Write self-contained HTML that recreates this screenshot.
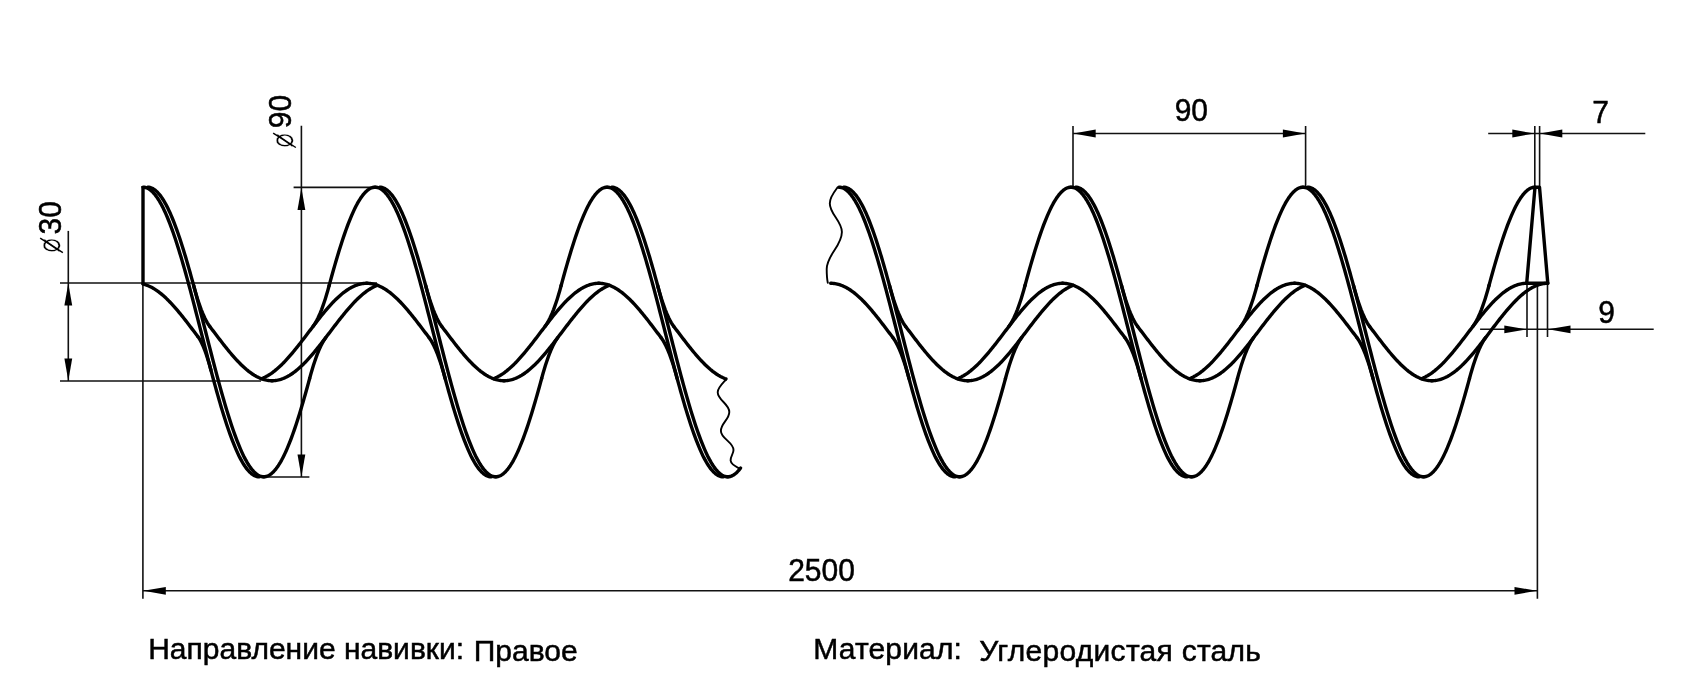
<!DOCTYPE html>
<html lang="ru"><head><meta charset="utf-8"><title>Спираль</title>
<style>
html,body{margin:0;padding:0;background:#fff;}
svg{display:block;filter:grayscale(1)}
.k{fill:none;stroke:#000;stroke-width:3.4;stroke-linejoin:round;stroke-linecap:round}
.n{fill:none;stroke:#111;stroke-width:1.6;stroke-linecap:butt}
.a{fill:#000;stroke:none}
.w{fill:none;stroke:#000;stroke-width:1.9;stroke-linecap:round}
text{font-family:"Liberation Sans",sans-serif;font-size:30px;fill:#000;stroke:#000;stroke-width:.5px}
text.dia{font-family:"DejaVu Sans","Liberation Sans",sans-serif;font-size:20px;stroke:#fff;stroke-width:.2px}
.s{fill:none;stroke:#000;stroke-width:1.4}
</style></head><body>
<svg width="1683" height="695" viewBox="0 0 1683 695">
<rect width="1683" height="695" fill="#fff"/>
<g>
<path class="w" d="M726.1,379.5C722,384 717.7,388 717.7,392.2C717.7,400 729.3,404 729.3,411.9C729.3,419.5 720.9,423.3 720.9,430.9C720.9,438.5 733.5,442.3 733.5,449.9C733.5,454 730.2,456.5 730.6,460.5C731,465 737,467 740.3,468.9"/>
<path class="w" d="M837.6,187.4C834.5,191.5 829.8,197 829.8,203.4C829.8,214 841.9,221 841.9,231.9C841.9,246 826.7,255 826.7,269C826.7,274 827,279 827.8,282.8"/>
<path class="n" d="M68.3,230.9L68.3,381.0"/>
<path class="n" d="M60.0,283.0L377.0,283.0"/>
<path class="n" d="M60.0,381.0L261.0,381.0"/>
<polygon class="a" points="68.3,283.3 64.4,305.6 72.2,305.6"/>
<polygon class="a" points="68.3,380.7 64.4,358.4 72.2,358.4"/>
<path class="n" d="M301.4,125.8L301.4,477.0"/>
<path class="n" d="M293.6,187.4L377.0,187.4"/>
<path class="n" d="M261.0,477.0L309.4,477.0"/>
<polygon class="a" points="301.4,187.7 297.5,210.0 305.3,210.0"/>
<polygon class="a" points="301.4,476.7 297.5,454.4 305.3,454.4"/>
<path class="n" d="M1073.0,126.0L1073.0,187.0"/>
<path class="n" d="M1305.6,126.0L1305.6,187.0"/>
<path class="n" d="M1073.0,133.5L1305.6,133.5"/>
<polygon class="a" points="1073.4,133.5 1095.7,129.6 1095.7,137.4"/>
<polygon class="a" points="1305.2,133.5 1282.9,129.6 1282.9,137.4"/>
<path class="n" d="M1534.8,126.0L1534.8,187.0"/>
<path class="n" d="M1539.6,126.0L1539.6,187.0"/>
<path class="n" d="M1488.2,133.5L1645.3,133.5"/>
<polygon class="a" points="1534.6,133.5 1512.3,129.6 1512.3,137.4"/>
<polygon class="a" points="1540.0,133.5 1562.3,129.6 1562.3,137.4"/>
<path class="n" d="M1527.0,283.0L1527.0,337.0"/>
<path class="n" d="M1547.5,283.0L1547.5,337.0"/>
<path class="n" d="M1480.1,329.3L1653.7,329.3"/>
<polygon class="a" points="1526.6,329.3 1504.3,325.4 1504.3,333.2"/>
<polygon class="a" points="1548.2,329.3 1570.5,325.4 1570.5,333.2"/>
<path class="n" d="M142.9,284.0L142.9,598.8"/>
<path class="n" d="M1537.4,286.0L1537.4,598.8"/>
<path class="n" d="M143.0,590.8L1537.0,590.8"/>
<polygon class="a" points="143.5,590.8 165.8,586.9 165.8,594.7"/>
<polygon class="a" points="1536.8,590.8 1514.5,586.9 1514.5,594.7"/>
</g>
<g>
<path class="k" d="M143.10,187.20L144.22,187.27 145.33,187.46 146.45,187.79 147.56,188.26 148.68,188.85 149.79,189.57 150.91,190.43 152.02,191.41 153.14,192.52 154.25,193.76 155.37,195.12 156.48,196.61 157.60,198.22 158.72,199.96 159.83,201.81 160.95,203.79 162.06,205.88 163.18,208.08 164.29,210.40 165.41,212.83 166.52,215.37 167.64,218.02 168.75,220.76 169.87,223.62 170.98,226.57 172.10,229.61 173.22,232.75 174.33,235.98 175.45,239.30 176.56,242.70 177.68,246.18 178.79,249.74 179.91,253.38 181.02,257.09 182.14,260.87 183.25,264.71 184.37,268.61 185.48,272.57 186.60,276.59 187.72,280.65 188.83,284.77 189.95,288.92 191.06,293.12 192.18,297.35 193.29,301.61 194.41,305.90 195.52,310.21 196.64,314.55 197.75,318.90 198.87,323.26 199.98,327.63 201.10,332.00 202.22,336.37 203.33,340.74 204.45,345.10 205.56,349.45 206.68,353.79 207.79,358.10 208.91,362.39 210.02,366.65 211.14,370.88 212.25,375.08 213.37,379.23 214.48,383.35 215.60,387.41 216.72,391.43 217.83,395.39 218.95,399.29 220.06,403.13 221.18,406.91 222.29,410.62 223.41,414.26 224.52,417.82 225.64,421.30 226.75,424.70 227.87,428.02 228.98,431.25 230.10,434.39 231.22,437.43 232.33,440.38 233.45,443.24 234.56,445.98 235.68,448.63 236.79,451.17 237.91,453.60 239.02,455.92 240.14,458.12 241.25,460.21 242.37,462.19 243.48,464.04 244.60,465.78 245.72,467.39 246.83,468.88 247.95,470.24 249.06,471.48 250.18,472.59 251.29,473.57 252.41,474.43 253.52,475.15 254.64,475.74 255.75,476.21 256.87,476.54 257.98,476.73 259.10,476.80"/>
<path class="k" d="M147.70,187.20L148.82,187.27 149.93,187.46 151.05,187.79 152.16,188.26 153.28,188.85 154.39,189.57 155.51,190.43 156.62,191.41 157.74,192.52 158.85,193.76 159.97,195.12 161.08,196.61 162.20,198.22 163.32,199.96 164.43,201.81 165.55,203.79 166.66,205.88 167.78,208.08 168.89,210.40 170.01,212.83 171.12,215.37 172.24,218.02 173.35,220.76 174.47,223.62 175.58,226.57 176.70,229.61 177.82,232.75 178.93,235.98 180.05,239.30 181.16,242.70 182.28,246.18 183.39,249.74 184.51,253.38 185.62,257.09 186.74,260.87 187.85,264.71 188.97,268.61 190.08,272.57 191.20,276.59 192.32,280.65 193.43,284.77 194.55,288.92 195.66,293.12 196.78,297.35 197.89,301.61 199.01,305.90 200.12,310.21 201.24,314.55 202.35,318.90 203.47,323.26 204.58,327.63 205.70,332.00 206.82,336.37 207.93,340.74 209.05,345.10 210.16,349.45 211.28,353.79 212.39,358.10 213.51,362.39 214.62,366.65 215.74,370.88 216.85,375.08 217.97,379.23 219.08,383.35 220.20,387.41 221.32,391.43 222.43,395.39 223.55,399.29 224.66,403.13 225.78,406.91 226.89,410.62 228.01,414.26 229.12,417.82 230.24,421.30 231.35,424.70 232.47,428.02 233.58,431.25 234.70,434.39 235.82,437.43 236.93,440.38 238.05,443.24 239.16,445.98 240.28,448.63 241.39,451.17 242.51,453.60 243.62,455.92 244.74,458.12 245.85,460.21 246.97,462.19 248.08,464.04 249.20,465.78 250.32,467.39 251.43,468.88 252.55,470.24 253.66,471.48 254.78,472.59 255.89,473.57 257.01,474.43 258.12,475.15 259.24,475.74 260.35,476.21 261.47,476.54 262.58,476.73 263.70,476.80"/>
<path class="k" d="M143.10,284.10L144.21,284.39 145.33,284.72 146.44,285.09 147.56,285.51 148.68,285.97 149.79,286.47 150.91,287.01 152.03,287.60 153.14,288.22 154.26,288.89 155.37,289.59 156.49,290.33 157.61,291.11 158.72,291.93 159.84,292.79 160.95,293.68 162.07,294.60 163.19,295.56 164.30,296.56 165.42,297.58 166.53,298.64 167.65,299.73 168.77,300.84 169.88,301.99 171.00,303.16 172.12,304.36 173.23,305.58 174.35,306.83 175.46,308.10 176.58,309.40 177.70,310.71 178.81,312.05 179.93,313.40 181.04,314.77 182.16,316.15 183.28,317.55 184.39,318.96 185.51,320.39 186.62,321.82 187.74,323.26 188.86,324.72 189.97,326.18 191.09,327.64 192.21,329.11 193.32,330.58 194.44,332.05 195.55,333.52 196.67,334.99 197.79,336.46"/>
<path class="k" d="M197.79,336.46L198.79,337.87 199.79,339.47 200.79,341.27 201.80,343.27 202.80,345.46 203.81,347.85 204.82,350.44 205.84,353.22 206.85,356.21 207.87,359.40 208.90,362.79 209.92,366.39 210.95,370.19"/>
<path class="k" d="M209.81,326.49L208.59,324.77 207.37,322.83 206.14,320.64 204.92,318.23 203.68,315.57 202.45,312.68 201.20,309.54 199.96,306.16 198.71,302.54 197.45,298.67 196.19,294.55 194.92,290.18 193.64,285.55"/>
<path class="k" d="M209.81,326.49L210.92,327.95 212.03,329.41 213.14,330.87 214.25,332.33 215.36,333.80 216.47,335.26 217.59,336.72 218.70,338.18 219.81,339.63 220.92,341.07 222.03,342.50 223.14,343.93 224.25,345.34 225.36,346.75 226.47,348.14 227.58,349.51 228.69,350.87 229.80,352.21 230.91,353.53 232.02,354.84 233.13,356.12 234.24,357.38 235.35,358.62 236.46,359.83 237.57,361.02 238.68,362.19 239.80,363.32 240.91,364.43 242.02,365.51 243.13,366.55 244.24,367.57 245.35,368.55 246.46,369.51 247.57,370.42 248.68,371.31 249.79,372.15 250.90,372.96 252.01,373.74 253.12,374.47 254.23,375.17 255.34,375.83 256.45,376.45 257.56,377.02 258.67,377.56 259.78,378.06 260.89,378.51 262.01,378.93 263.12,379.30 264.23,379.62 265.34,379.91 266.45,380.15 267.56,380.35 268.67,380.50 269.78,380.61 270.89,380.68 272.00,380.70"/>
<path class="k" d="M263.70,476.80L264.82,476.73 265.94,476.53 267.06,476.20 268.18,475.73 269.30,475.14 270.42,474.41 271.54,473.55 272.66,472.55 273.78,471.43 274.91,470.18 276.03,468.81 277.15,467.30 278.27,465.68 279.39,463.93 280.51,462.06 281.63,460.06 282.75,457.95 283.87,455.73 284.99,453.39 286.11,450.94 287.23,448.38 288.35,445.71 289.47,442.94 290.59,440.06 291.71,437.09 292.83,434.02 293.95,430.85 295.07,427.60 296.20,424.25 297.32,420.82 298.44,417.31 299.56,413.72 300.68,410.06 301.80,406.32 302.92,402.52 304.04,398.65 305.16,394.72 306.28,390.73 307.40,386.68 308.52,382.59 309.64,378.45"/>
<path class="k" d="M325.81,337.51L324.59,339.23 323.37,341.17 322.14,343.36 320.92,345.77 319.68,348.43 318.45,351.32 317.20,354.46 315.96,357.84 314.71,361.46 313.45,365.33 312.19,369.45 310.92,373.82 309.64,378.45"/>
<path class="k" d="M272.00,380.70L273.11,380.68 274.22,380.61 275.33,380.50 276.44,380.35 277.55,380.15 278.66,379.91 279.77,379.63 280.88,379.30 281.99,378.93 283.09,378.52 284.20,378.06 285.31,377.57 286.42,377.03 287.53,376.45 288.64,375.84 289.75,375.18 290.86,374.48 291.97,373.75 293.08,372.98 294.19,372.17 295.30,371.32 296.41,370.44 297.52,369.53 298.63,368.58 299.74,367.59 300.85,366.58 301.96,365.53 303.07,364.46 304.17,363.35 305.28,362.22 306.39,361.06 307.50,359.87 308.61,358.66 309.72,357.42 310.83,356.16 311.94,354.88 313.05,353.58 314.16,352.26 315.27,350.92 316.38,349.56 317.49,348.19 318.60,346.80 319.71,345.40 320.82,343.99 321.93,342.56 323.04,341.13 324.15,339.69 325.25,338.24 326.36,336.79 327.47,335.33 328.58,333.87 329.69,332.41 330.80,330.94 331.91,329.48 333.02,328.02 334.13,326.56 335.24,325.11 336.35,323.67 337.46,322.23 338.57,320.80 339.68,319.38 340.79,317.97 341.90,316.58 343.01,315.20 344.12,313.83 345.23,312.48 346.33,311.15 347.44,309.84 348.55,308.55 349.66,307.27 350.77,306.02 351.88,304.80 352.99,303.60 354.10,302.42 355.21,301.27 356.32,300.15 357.43,299.06 358.54,298.00 359.65,296.96 360.76,295.96 361.87,295.00 362.98,294.06 364.09,293.16 365.20,292.30 366.31,291.47 367.41,290.67 368.52,289.92 369.63,289.20 370.74,288.52 371.85,287.88 372.96,287.28 374.07,286.72 375.18,286.21 376.29,285.73 377.40,285.29"/>
<path class="k" d="M261.40,378.71L262.51,378.27 263.62,377.79 264.73,377.28 265.84,376.72 266.95,376.12 268.06,375.48 269.17,374.80 270.28,374.08 271.39,373.33 272.49,372.53 273.60,371.70 274.71,370.84 275.82,369.94 276.93,369.00 278.04,368.04 279.15,367.04 280.26,366.00 281.37,364.94 282.48,363.85 283.59,362.73 284.70,361.58 285.81,360.40 286.92,359.20 288.03,357.98 289.14,356.73 290.25,355.45 291.36,354.16 292.47,352.85 293.57,351.52 294.68,350.17 295.79,348.80 296.90,347.42 298.01,346.03 299.12,344.62 300.23,343.20 301.34,341.77 302.45,340.33 303.56,338.89 304.67,337.44 305.78,335.98 306.89,334.52 308.00,333.06 309.11,331.59 310.22,330.13 311.33,328.67 312.44,327.21 313.55,325.76 314.65,324.31 315.76,322.87 316.87,321.44 317.98,320.01 319.09,318.60 320.20,317.20 321.31,315.81 322.42,314.44 323.53,313.08 324.64,311.74 325.75,310.42 326.86,309.12 327.97,307.84 329.08,306.58 330.19,305.34 331.30,304.13 332.41,302.94 333.52,301.78 334.63,300.65 335.73,299.54 336.84,298.47 337.95,297.42 339.06,296.41 340.17,295.42 341.28,294.47 342.39,293.56 343.50,292.68 344.61,291.83 345.72,291.02 346.83,290.25 347.94,289.52 349.05,288.82 350.16,288.16 351.27,287.55 352.38,286.97 353.49,286.43 354.60,285.94 355.71,285.48 356.81,285.07 357.92,284.70 359.03,284.37 360.14,284.09 361.25,283.85 362.36,283.65 363.47,283.50 364.58,283.39 365.69,283.32 366.80,283.30"/>
<path class="k" d="M312.99,326.49L314.21,324.77 315.43,322.83 316.66,320.64 317.88,318.23 319.12,315.57 320.35,312.68 321.60,309.54 322.84,306.16 324.09,302.54 325.35,298.67 326.61,294.55 327.88,290.18 329.16,285.55"/>
<path class="k" d="M329.16,285.55L330.28,281.41 331.40,277.32 332.52,273.27 333.64,269.28 334.76,265.35 335.88,261.48 337.00,257.68 338.12,253.94 339.24,250.28 340.36,246.69 341.48,243.18 342.60,239.75 343.73,236.40 344.85,233.15 345.97,229.98 347.09,226.91 348.21,223.94 349.33,221.06 350.45,218.29 351.57,215.62 352.69,213.06 353.81,210.61 354.93,208.27 356.05,206.05 357.17,203.94 358.29,201.94 359.41,200.07 360.53,198.32 361.65,196.70 362.77,195.19 363.89,193.82 365.02,192.57 366.14,191.45 367.26,190.45 368.38,189.59 369.50,188.86 370.62,188.27 371.74,187.80 372.86,187.47 373.98,187.27 375.10,187.20"/>
<path class="k" d="M375.10,187.20L376.22,187.27 377.33,187.46 378.45,187.79 379.56,188.26 380.68,188.85 381.79,189.57 382.91,190.43 384.02,191.41 385.14,192.52 386.25,193.76 387.37,195.12 388.48,196.61 389.60,198.22 390.72,199.96 391.83,201.81 392.95,203.79 394.06,205.88 395.18,208.08 396.29,210.40 397.41,212.83 398.52,215.37 399.64,218.02 400.75,220.76 401.87,223.62 402.98,226.57 404.10,229.61 405.22,232.75 406.33,235.98 407.45,239.30 408.56,242.70 409.68,246.18 410.79,249.74 411.91,253.38 413.02,257.09 414.14,260.87 415.25,264.71 416.37,268.61 417.48,272.57 418.60,276.59 419.72,280.65 420.83,284.77 421.95,288.92 423.06,293.12 424.18,297.35 425.29,301.61 426.41,305.90 427.52,310.21 428.64,314.55 429.75,318.90 430.87,323.26 431.98,327.63 433.10,332.00 434.22,336.37 435.33,340.74 436.45,345.10 437.56,349.45 438.68,353.79 439.79,358.10 440.91,362.39 442.02,366.65 443.14,370.88 444.25,375.08 445.37,379.23 446.48,383.35 447.60,387.41 448.72,391.43 449.83,395.39 450.95,399.29 452.06,403.13 453.18,406.91 454.29,410.62 455.41,414.26 456.52,417.82 457.64,421.30 458.75,424.70 459.87,428.02 460.98,431.25 462.10,434.39 463.22,437.43 464.33,440.38 465.45,443.24 466.56,445.98 467.68,448.63 468.79,451.17 469.91,453.60 471.02,455.92 472.14,458.12 473.25,460.21 474.37,462.19 475.48,464.04 476.60,465.78 477.72,467.39 478.83,468.88 479.95,470.24 481.06,471.48 482.18,472.59 483.29,473.57 484.41,474.43 485.52,475.15 486.64,475.74 487.75,476.21 488.87,476.54 489.98,476.73 491.10,476.80"/>
<path class="k" d="M379.70,187.20L380.82,187.27 381.93,187.46 383.05,187.79 384.16,188.26 385.28,188.85 386.39,189.57 387.51,190.43 388.62,191.41 389.74,192.52 390.85,193.76 391.97,195.12 393.08,196.61 394.20,198.22 395.32,199.96 396.43,201.81 397.55,203.79 398.66,205.88 399.78,208.08 400.89,210.40 402.01,212.83 403.12,215.37 404.24,218.02 405.35,220.76 406.47,223.62 407.58,226.57 408.70,229.61 409.82,232.75 410.93,235.98 412.05,239.30 413.16,242.70 414.28,246.18 415.39,249.74 416.51,253.38 417.62,257.09 418.74,260.87 419.85,264.71 420.97,268.61 422.08,272.57 423.20,276.59 424.32,280.65 425.43,284.77 426.55,288.92 427.66,293.12 428.78,297.35 429.89,301.61 431.01,305.90 432.12,310.21 433.24,314.55 434.35,318.90 435.47,323.26 436.58,327.63 437.70,332.00 438.82,336.37 439.93,340.74 441.05,345.10 442.16,349.45 443.28,353.79 444.39,358.10 445.51,362.39 446.62,366.65 447.74,370.88 448.85,375.08 449.97,379.23 451.08,383.35 452.20,387.41 453.32,391.43 454.43,395.39 455.55,399.29 456.66,403.13 457.78,406.91 458.89,410.62 460.01,414.26 461.12,417.82 462.24,421.30 463.35,424.70 464.47,428.02 465.58,431.25 466.70,434.39 467.82,437.43 468.93,440.38 470.05,443.24 471.16,445.98 472.28,448.63 473.39,451.17 474.51,453.60 475.62,455.92 476.74,458.12 477.85,460.21 478.97,462.19 480.08,464.04 481.20,465.78 482.32,467.39 483.43,468.88 484.55,470.24 485.66,471.48 486.78,472.59 487.89,473.57 489.01,474.43 490.12,475.15 491.24,475.74 492.35,476.21 493.47,476.54 494.58,476.73 495.70,476.80"/>
<path class="k" d="M366.80,283.30L367.91,283.32 369.02,283.39 370.13,283.50 371.24,283.65 372.35,283.85 373.46,284.09 374.57,284.38 375.68,284.70 376.79,285.07 377.91,285.49 379.02,285.94 380.13,286.44 381.24,286.98 382.35,287.55 383.46,288.17 384.57,288.83 385.68,289.53 386.79,290.26 387.90,291.04 389.01,291.85 390.12,292.69 391.23,293.58 392.34,294.49 393.45,295.45 394.56,296.43 395.67,297.45 396.78,298.49 397.89,299.57 399.00,300.68 400.12,301.81 401.23,302.98 402.34,304.17 403.45,305.38 404.56,306.62 405.67,307.88 406.78,309.16 407.89,310.47 409.00,311.79 410.11,313.13 411.22,314.49 412.33,315.86 413.44,317.25 414.55,318.66 415.66,320.07 416.77,321.50 417.88,322.93 418.99,324.37 420.10,325.82 421.21,327.28 422.33,328.74 423.44,330.20 424.55,331.67 425.66,333.13 426.77,334.59 427.88,336.05 428.99,337.51"/>
<path class="k" d="M428.99,337.51L430.21,339.23 431.43,341.17 432.66,343.36 433.88,345.77 435.12,348.43 436.35,351.32 437.60,354.46 438.84,357.84 440.09,361.46 441.35,365.33 442.61,369.45 443.88,373.82 445.16,378.45"/>
<path class="k" d="M441.81,326.49L440.59,324.77 439.37,322.83 438.14,320.64 436.92,318.23 435.68,315.57 434.45,312.68 433.20,309.54 431.96,306.16 430.71,302.54 429.45,298.67 428.19,294.55 426.92,290.18 425.64,285.55"/>
<path class="k" d="M441.81,326.49L442.92,327.95 444.03,329.41 445.14,330.87 446.25,332.33 447.36,333.80 448.47,335.26 449.59,336.72 450.70,338.18 451.81,339.63 452.92,341.07 454.03,342.50 455.14,343.93 456.25,345.34 457.36,346.75 458.47,348.14 459.58,349.51 460.69,350.87 461.80,352.21 462.91,353.53 464.02,354.84 465.13,356.12 466.24,357.38 467.35,358.62 468.46,359.83 469.57,361.02 470.68,362.19 471.80,363.32 472.91,364.43 474.02,365.51 475.13,366.55 476.24,367.57 477.35,368.55 478.46,369.51 479.57,370.42 480.68,371.31 481.79,372.15 482.90,372.96 484.01,373.74 485.12,374.47 486.23,375.17 487.34,375.83 488.45,376.45 489.56,377.02 490.67,377.56 491.78,378.06 492.89,378.51 494.01,378.93 495.12,379.30 496.23,379.62 497.34,379.91 498.45,380.15 499.56,380.35 500.67,380.50 501.78,380.61 502.89,380.68 504.00,380.70"/>
<path class="k" d="M495.70,476.80L496.82,476.73 497.94,476.53 499.06,476.20 500.18,475.73 501.30,475.14 502.42,474.41 503.54,473.55 504.66,472.55 505.78,471.43 506.91,470.18 508.03,468.81 509.15,467.30 510.27,465.68 511.39,463.93 512.51,462.06 513.63,460.06 514.75,457.95 515.87,455.73 516.99,453.39 518.11,450.94 519.23,448.38 520.35,445.71 521.47,442.94 522.59,440.06 523.71,437.09 524.83,434.02 525.95,430.85 527.07,427.60 528.20,424.25 529.32,420.82 530.44,417.31 531.56,413.72 532.68,410.06 533.80,406.32 534.92,402.52 536.04,398.65 537.16,394.72 538.28,390.73 539.40,386.68 540.52,382.59 541.64,378.45"/>
<path class="k" d="M557.81,337.51L556.59,339.23 555.37,341.17 554.14,343.36 552.92,345.77 551.68,348.43 550.45,351.32 549.20,354.46 547.96,357.84 546.71,361.46 545.45,365.33 544.19,369.45 542.92,373.82 541.64,378.45"/>
<path class="k" d="M504.00,380.70L505.11,380.68 506.22,380.61 507.33,380.50 508.44,380.35 509.55,380.15 510.66,379.91 511.77,379.63 512.88,379.30 513.99,378.93 515.09,378.52 516.20,378.06 517.31,377.57 518.42,377.03 519.53,376.45 520.64,375.84 521.75,375.18 522.86,374.48 523.97,373.75 525.08,372.98 526.19,372.17 527.30,371.32 528.41,370.44 529.52,369.53 530.63,368.58 531.74,367.59 532.85,366.58 533.96,365.53 535.07,364.46 536.17,363.35 537.28,362.22 538.39,361.06 539.50,359.87 540.61,358.66 541.72,357.42 542.83,356.16 543.94,354.88 545.05,353.58 546.16,352.26 547.27,350.92 548.38,349.56 549.49,348.19 550.60,346.80 551.71,345.40 552.82,343.99 553.93,342.56 555.04,341.13 556.15,339.69 557.25,338.24 558.36,336.79 559.47,335.33 560.58,333.87 561.69,332.41 562.80,330.94 563.91,329.48 565.02,328.02 566.13,326.56 567.24,325.11 568.35,323.67 569.46,322.23 570.57,320.80 571.68,319.38 572.79,317.97 573.90,316.58 575.01,315.20 576.12,313.83 577.23,312.48 578.33,311.15 579.44,309.84 580.55,308.55 581.66,307.27 582.77,306.02 583.88,304.80 584.99,303.60 586.10,302.42 587.21,301.27 588.32,300.15 589.43,299.06 590.54,298.00 591.65,296.96 592.76,295.96 593.87,295.00 594.98,294.06 596.09,293.16 597.20,292.30 598.31,291.47 599.41,290.67 600.52,289.92 601.63,289.20 602.74,288.52 603.85,287.88 604.96,287.28 606.07,286.72 607.18,286.21 608.29,285.73 609.40,285.29"/>
<path class="k" d="M493.40,378.71L494.51,378.27 495.62,377.79 496.73,377.28 497.84,376.72 498.95,376.12 500.06,375.48 501.17,374.80 502.28,374.08 503.39,373.33 504.49,372.53 505.60,371.70 506.71,370.84 507.82,369.94 508.93,369.00 510.04,368.04 511.15,367.04 512.26,366.00 513.37,364.94 514.48,363.85 515.59,362.73 516.70,361.58 517.81,360.40 518.92,359.20 520.03,357.98 521.14,356.73 522.25,355.45 523.36,354.16 524.47,352.85 525.57,351.52 526.68,350.17 527.79,348.80 528.90,347.42 530.01,346.03 531.12,344.62 532.23,343.20 533.34,341.77 534.45,340.33 535.56,338.89 536.67,337.44 537.78,335.98 538.89,334.52 540.00,333.06 541.11,331.59 542.22,330.13 543.33,328.67 544.44,327.21 545.55,325.76 546.65,324.31 547.76,322.87 548.87,321.44 549.98,320.01 551.09,318.60 552.20,317.20 553.31,315.81 554.42,314.44 555.53,313.08 556.64,311.74 557.75,310.42 558.86,309.12 559.97,307.84 561.08,306.58 562.19,305.34 563.30,304.13 564.41,302.94 565.52,301.78 566.63,300.65 567.73,299.54 568.84,298.47 569.95,297.42 571.06,296.41 572.17,295.42 573.28,294.47 574.39,293.56 575.50,292.68 576.61,291.83 577.72,291.02 578.83,290.25 579.94,289.52 581.05,288.82 582.16,288.16 583.27,287.55 584.38,286.97 585.49,286.43 586.60,285.94 587.71,285.48 588.81,285.07 589.92,284.70 591.03,284.37 592.14,284.09 593.25,283.85 594.36,283.65 595.47,283.50 596.58,283.39 597.69,283.32 598.80,283.30"/>
<path class="k" d="M544.99,326.49L546.21,324.77 547.43,322.83 548.66,320.64 549.88,318.23 551.12,315.57 552.35,312.68 553.60,309.54 554.84,306.16 556.09,302.54 557.35,298.67 558.61,294.55 559.88,290.18 561.16,285.55"/>
<path class="k" d="M561.16,285.55L562.28,281.41 563.40,277.32 564.52,273.27 565.64,269.28 566.76,265.35 567.88,261.48 569.00,257.68 570.12,253.94 571.24,250.28 572.36,246.69 573.48,243.18 574.60,239.75 575.73,236.40 576.85,233.15 577.97,229.98 579.09,226.91 580.21,223.94 581.33,221.06 582.45,218.29 583.57,215.62 584.69,213.06 585.81,210.61 586.93,208.27 588.05,206.05 589.17,203.94 590.29,201.94 591.41,200.07 592.53,198.32 593.65,196.70 594.77,195.19 595.89,193.82 597.02,192.57 598.14,191.45 599.26,190.45 600.38,189.59 601.50,188.86 602.62,188.27 603.74,187.80 604.86,187.47 605.98,187.27 607.10,187.20"/>
<path class="k" d="M607.10,187.20L608.22,187.27 609.33,187.46 610.45,187.79 611.56,188.26 612.68,188.85 613.79,189.57 614.91,190.43 616.02,191.41 617.14,192.52 618.25,193.76 619.37,195.12 620.48,196.61 621.60,198.22 622.72,199.96 623.83,201.81 624.95,203.79 626.06,205.88 627.18,208.08 628.29,210.40 629.41,212.83 630.52,215.37 631.64,218.02 632.75,220.76 633.87,223.62 634.98,226.57 636.10,229.61 637.22,232.75 638.33,235.98 639.45,239.30 640.56,242.70 641.68,246.18 642.79,249.74 643.91,253.38 645.02,257.09 646.14,260.87 647.25,264.71 648.37,268.61 649.48,272.57 650.60,276.59 651.72,280.65 652.83,284.77 653.95,288.92 655.06,293.12 656.18,297.35 657.29,301.61 658.41,305.90 659.52,310.21 660.64,314.55 661.75,318.90 662.87,323.26 663.98,327.63 665.10,332.00 666.22,336.37 667.33,340.74 668.45,345.10 669.56,349.45 670.68,353.79 671.79,358.10 672.91,362.39 674.02,366.65 675.14,370.88 676.25,375.08 677.37,379.23 678.48,383.35 679.60,387.41 680.72,391.43 681.83,395.39 682.95,399.29 684.06,403.13 685.18,406.91 686.29,410.62 687.41,414.26 688.52,417.82 689.64,421.30 690.75,424.70 691.87,428.02 692.98,431.25 694.10,434.39 695.22,437.43 696.33,440.38 697.45,443.24 698.56,445.98 699.68,448.63 700.79,451.17 701.91,453.60 703.02,455.92 704.14,458.12 705.25,460.21 706.37,462.19 707.48,464.04 708.60,465.78 709.72,467.39 710.83,468.88 711.95,470.24 713.06,471.48 714.18,472.59 715.29,473.57 716.41,474.43 717.52,475.15 718.64,475.74 719.75,476.21 720.87,476.54 721.98,476.73 723.10,476.80"/>
<path class="k" d="M611.70,187.20L612.82,187.27 613.93,187.46 615.05,187.79 616.16,188.26 617.28,188.85 618.39,189.57 619.51,190.43 620.62,191.41 621.74,192.52 622.85,193.76 623.97,195.12 625.08,196.61 626.20,198.22 627.32,199.96 628.43,201.81 629.55,203.79 630.66,205.88 631.78,208.08 632.89,210.40 634.01,212.83 635.12,215.37 636.24,218.02 637.35,220.76 638.47,223.62 639.58,226.57 640.70,229.61 641.82,232.75 642.93,235.98 644.05,239.30 645.16,242.70 646.28,246.18 647.39,249.74 648.51,253.38 649.62,257.09 650.74,260.87 651.85,264.71 652.97,268.61 654.08,272.57 655.20,276.59 656.32,280.65 657.43,284.77 658.55,288.92 659.66,293.12 660.78,297.35 661.89,301.61 663.01,305.90 664.12,310.21 665.24,314.55 666.35,318.90 667.47,323.26 668.58,327.63 669.70,332.00 670.82,336.37 671.93,340.74 673.05,345.10 674.16,349.45 675.28,353.79 676.39,358.10 677.51,362.39 678.62,366.65 679.74,370.88 680.85,375.08 681.97,379.23 683.08,383.35 684.20,387.41 685.32,391.43 686.43,395.39 687.55,399.29 688.66,403.13 689.78,406.91 690.89,410.62 692.01,414.26 693.12,417.82 694.24,421.30 695.35,424.70 696.47,428.02 697.58,431.25 698.70,434.39 699.82,437.43 700.93,440.38 702.05,443.24 703.16,445.98 704.28,448.63 705.39,451.17 706.51,453.60 707.62,455.92 708.74,458.12 709.85,460.21 710.97,462.19 712.08,464.04 713.20,465.78 714.32,467.39 715.43,468.88 716.55,470.24 717.66,471.48 718.78,472.59 719.89,473.57 721.01,474.43 722.12,475.15 723.24,475.74 724.35,476.21 725.47,476.54 726.58,476.73 727.70,476.80"/>
<path class="k" d="M598.80,283.30L599.91,283.32 601.02,283.39 602.13,283.50 603.24,283.65 604.35,283.85 605.46,284.09 606.57,284.38 607.68,284.70 608.79,285.07 609.91,285.49 611.02,285.94 612.13,286.44 613.24,286.98 614.35,287.55 615.46,288.17 616.57,288.83 617.68,289.53 618.79,290.26 619.90,291.04 621.01,291.85 622.12,292.69 623.23,293.58 624.34,294.49 625.45,295.45 626.56,296.43 627.67,297.45 628.78,298.49 629.89,299.57 631.00,300.68 632.12,301.81 633.23,302.98 634.34,304.17 635.45,305.38 636.56,306.62 637.67,307.88 638.78,309.16 639.89,310.47 641.00,311.79 642.11,313.13 643.22,314.49 644.33,315.86 645.44,317.25 646.55,318.66 647.66,320.07 648.77,321.50 649.88,322.93 650.99,324.37 652.10,325.82 653.21,327.28 654.33,328.74 655.44,330.20 656.55,331.67 657.66,333.13 658.77,334.59 659.88,336.05 660.99,337.51"/>
<path class="k" d="M660.99,337.51L662.21,339.23 663.43,341.17 664.66,343.36 665.88,345.77 667.12,348.43 668.35,351.32 669.60,354.46 670.84,357.84 672.09,361.46 673.35,365.33 674.61,369.45 675.88,373.82 677.16,378.45"/>
<path class="k" d="M673.81,326.49L672.59,324.77 671.37,322.83 670.14,320.64 668.92,318.23 667.68,315.57 666.45,312.68 665.20,309.54 663.96,306.16 662.71,302.54 661.45,298.67 660.19,294.55 658.92,290.18 657.64,285.55"/>
<path class="k" d="M673.81,326.49L674.92,327.95 676.03,329.41 677.14,330.87 678.25,332.33 679.36,333.80 680.47,335.26 681.59,336.72 682.70,338.18 683.81,339.63 684.92,341.07 686.03,342.50 687.14,343.93 688.25,345.34 689.36,346.75 690.47,348.14 691.58,349.51 692.69,350.87 693.80,352.21 694.91,353.53 696.02,354.84 697.13,356.12 698.24,357.38 699.35,358.62 700.46,359.83 701.57,361.02 702.68,362.19 703.80,363.32 704.91,364.43 706.02,365.51 707.13,366.55 708.24,367.57 709.35,368.55 710.46,369.51 711.57,370.42 712.68,371.31 713.79,372.15 714.90,372.96 716.01,373.74 717.12,374.47 718.23,375.17 719.34,375.83 720.45,376.45 721.56,377.02 722.67,377.56 723.78,378.06 724.89,378.51 726.01,378.93"/>
<path class="k" d="M727.70,476.80L728.87,476.73 730.05,476.51 731.22,476.14 732.39,475.63 733.56,474.98 734.74,474.18 735.91,473.24 737.08,472.15 738.25,470.92 739.43,469.56 740.60,468.05"/>
<path class="k" d="M838.95,187.20L840.07,187.27 841.18,187.46 842.30,187.79 843.41,188.26 844.53,188.85 845.64,189.57 846.76,190.43 847.87,191.41 848.99,192.52 850.10,193.76 851.22,195.12 852.33,196.61 853.45,198.22 854.57,199.96 855.68,201.81 856.80,203.79 857.91,205.88 859.03,208.08 860.14,210.40 861.26,212.83 862.37,215.37 863.49,218.02 864.60,220.76 865.72,223.62 866.83,226.57 867.95,229.61 869.07,232.75 870.18,235.98 871.30,239.30 872.41,242.70 873.53,246.18 874.64,249.74 875.76,253.38 876.87,257.09 877.99,260.87 879.10,264.71 880.22,268.61 881.33,272.57 882.45,276.59 883.57,280.65 884.68,284.77 885.80,288.92 886.91,293.12 888.03,297.35 889.14,301.61 890.26,305.90 891.37,310.21 892.49,314.55 893.60,318.90 894.72,323.26 895.83,327.63 896.95,332.00 898.07,336.37 899.18,340.74 900.30,345.10 901.41,349.45 902.53,353.79 903.64,358.10 904.76,362.39 905.87,366.65 906.99,370.88 908.10,375.08 909.22,379.23 910.33,383.35 911.45,387.41 912.57,391.43 913.68,395.39 914.80,399.29 915.91,403.13 917.03,406.91 918.14,410.62 919.26,414.26 920.37,417.82 921.49,421.30 922.60,424.70 923.72,428.02 924.83,431.25 925.95,434.39 927.07,437.43 928.18,440.38 929.30,443.24 930.41,445.98 931.53,448.63 932.64,451.17 933.76,453.60 934.87,455.92 935.99,458.12 937.10,460.21 938.22,462.19 939.33,464.04 940.45,465.78 941.57,467.39 942.68,468.88 943.80,470.24 944.91,471.48 946.03,472.59 947.14,473.57 948.26,474.43 949.37,475.15 950.49,475.74 951.60,476.21 952.72,476.54 953.83,476.73 954.95,476.80"/>
<path class="k" d="M843.55,187.20L844.67,187.27 845.78,187.46 846.90,187.79 848.01,188.26 849.13,188.85 850.24,189.57 851.36,190.43 852.47,191.41 853.59,192.52 854.70,193.76 855.82,195.12 856.93,196.61 858.05,198.22 859.17,199.96 860.28,201.81 861.40,203.79 862.51,205.88 863.63,208.08 864.74,210.40 865.86,212.83 866.97,215.37 868.09,218.02 869.20,220.76 870.32,223.62 871.43,226.57 872.55,229.61 873.67,232.75 874.78,235.98 875.90,239.30 877.01,242.70 878.13,246.18 879.24,249.74 880.36,253.38 881.47,257.09 882.59,260.87 883.70,264.71 884.82,268.61 885.93,272.57 887.05,276.59 888.17,280.65 889.28,284.77 890.40,288.92 891.51,293.12 892.63,297.35 893.74,301.61 894.86,305.90 895.97,310.21 897.09,314.55 898.20,318.90 899.32,323.26 900.43,327.63 901.55,332.00 902.67,336.37 903.78,340.74 904.90,345.10 906.01,349.45 907.13,353.79 908.24,358.10 909.36,362.39 910.47,366.65 911.59,370.88 912.70,375.08 913.82,379.23 914.93,383.35 916.05,387.41 917.17,391.43 918.28,395.39 919.40,399.29 920.51,403.13 921.63,406.91 922.74,410.62 923.86,414.26 924.97,417.82 926.09,421.30 927.20,424.70 928.32,428.02 929.43,431.25 930.55,434.39 931.67,437.43 932.78,440.38 933.90,443.24 935.01,445.98 936.13,448.63 937.24,451.17 938.36,453.60 939.47,455.92 940.59,458.12 941.70,460.21 942.82,462.19 943.93,464.04 945.05,465.78 946.17,467.39 947.28,468.88 948.40,470.24 949.51,471.48 950.63,472.59 951.74,473.57 952.86,474.43 953.97,475.15 955.09,475.74 956.20,476.21 957.32,476.54 958.43,476.73 959.55,476.80"/>
<path class="k" d="M830.65,283.30L831.76,283.32 832.87,283.39 833.98,283.50 835.09,283.65 836.20,283.85 837.31,284.09 838.42,284.38 839.53,284.70 840.64,285.07 841.76,285.49 842.87,285.94 843.98,286.44 845.09,286.98 846.20,287.55 847.31,288.17 848.42,288.83 849.53,289.53 850.64,290.26 851.75,291.04 852.86,291.85 853.97,292.69 855.08,293.58 856.19,294.49 857.30,295.45 858.41,296.43 859.52,297.45 860.63,298.49 861.74,299.57 862.85,300.68 863.97,301.81 865.08,302.98 866.19,304.17 867.30,305.38 868.41,306.62 869.52,307.88 870.63,309.16 871.74,310.47 872.85,311.79 873.96,313.13 875.07,314.49 876.18,315.86 877.29,317.25 878.40,318.66 879.51,320.07 880.62,321.50 881.73,322.93 882.84,324.37 883.95,325.82 885.06,327.28 886.18,328.74 887.29,330.20 888.40,331.67 889.51,333.13 890.62,334.59 891.73,336.05 892.84,337.51"/>
<path class="k" d="M892.84,337.51L894.06,339.23 895.28,341.17 896.51,343.36 897.73,345.77 898.97,348.43 900.20,351.32 901.45,354.46 902.69,357.84 903.94,361.46 905.20,365.33 906.46,369.45 907.73,373.82 909.01,378.45"/>
<path class="k" d="M905.66,326.49L904.44,324.77 903.22,322.83 901.99,320.64 900.77,318.23 899.53,315.57 898.30,312.68 897.05,309.54 895.81,306.16 894.56,302.54 893.30,298.67 892.04,294.55 890.77,290.18 889.49,285.55"/>
<path class="k" d="M905.66,326.49L906.77,327.95 907.88,329.41 908.99,330.87 910.10,332.33 911.21,333.80 912.32,335.26 913.44,336.72 914.55,338.18 915.66,339.63 916.77,341.07 917.88,342.50 918.99,343.93 920.10,345.34 921.21,346.75 922.32,348.14 923.43,349.51 924.54,350.87 925.65,352.21 926.76,353.53 927.87,354.84 928.98,356.12 930.09,357.38 931.20,358.62 932.31,359.83 933.42,361.02 934.53,362.19 935.65,363.32 936.76,364.43 937.87,365.51 938.98,366.55 940.09,367.57 941.20,368.55 942.31,369.51 943.42,370.42 944.53,371.31 945.64,372.15 946.75,372.96 947.86,373.74 948.97,374.47 950.08,375.17 951.19,375.83 952.30,376.45 953.41,377.02 954.52,377.56 955.63,378.06 956.74,378.51 957.86,378.93 958.97,379.30 960.08,379.62 961.19,379.91 962.30,380.15 963.41,380.35 964.52,380.50 965.63,380.61 966.74,380.68 967.85,380.70"/>
<path class="k" d="M959.55,476.80L960.67,476.73 961.79,476.53 962.91,476.20 964.03,475.73 965.15,475.14 966.27,474.41 967.39,473.55 968.51,472.55 969.63,471.43 970.76,470.18 971.88,468.81 973.00,467.30 974.12,465.68 975.24,463.93 976.36,462.06 977.48,460.06 978.60,457.95 979.72,455.73 980.84,453.39 981.96,450.94 983.08,448.38 984.20,445.71 985.32,442.94 986.44,440.06 987.56,437.09 988.68,434.02 989.80,430.85 990.92,427.60 992.05,424.25 993.17,420.82 994.29,417.31 995.41,413.72 996.53,410.06 997.65,406.32 998.77,402.52 999.89,398.65 1001.01,394.72 1002.13,390.73 1003.25,386.68 1004.37,382.59 1005.49,378.45"/>
<path class="k" d="M1021.66,337.51L1020.44,339.23 1019.22,341.17 1017.99,343.36 1016.77,345.77 1015.53,348.43 1014.30,351.32 1013.05,354.46 1011.81,357.84 1010.56,361.46 1009.30,365.33 1008.04,369.45 1006.77,373.82 1005.49,378.45"/>
<path class="k" d="M967.85,380.70L968.96,380.68 970.07,380.61 971.18,380.50 972.29,380.35 973.40,380.15 974.51,379.91 975.62,379.63 976.73,379.30 977.84,378.93 978.94,378.52 980.05,378.06 981.16,377.57 982.27,377.03 983.38,376.45 984.49,375.84 985.60,375.18 986.71,374.48 987.82,373.75 988.93,372.98 990.04,372.17 991.15,371.32 992.26,370.44 993.37,369.53 994.48,368.58 995.59,367.59 996.70,366.58 997.81,365.53 998.92,364.46 1000.02,363.35 1001.13,362.22 1002.24,361.06 1003.35,359.87 1004.46,358.66 1005.57,357.42 1006.68,356.16 1007.79,354.88 1008.90,353.58 1010.01,352.26 1011.12,350.92 1012.23,349.56 1013.34,348.19 1014.45,346.80 1015.56,345.40 1016.67,343.99 1017.78,342.56 1018.89,341.13 1020.00,339.69 1021.10,338.24 1022.21,336.79 1023.32,335.33 1024.43,333.87 1025.54,332.41 1026.65,330.94 1027.76,329.48 1028.87,328.02 1029.98,326.56 1031.09,325.11 1032.20,323.67 1033.31,322.23 1034.42,320.80 1035.53,319.38 1036.64,317.97 1037.75,316.58 1038.86,315.20 1039.97,313.83 1041.08,312.48 1042.18,311.15 1043.29,309.84 1044.40,308.55 1045.51,307.27 1046.62,306.02 1047.73,304.80 1048.84,303.60 1049.95,302.42 1051.06,301.27 1052.17,300.15 1053.28,299.06 1054.39,298.00 1055.50,296.96 1056.61,295.96 1057.72,295.00 1058.83,294.06 1059.94,293.16 1061.05,292.30 1062.16,291.47 1063.26,290.67 1064.37,289.92 1065.48,289.20 1066.59,288.52 1067.70,287.88 1068.81,287.28 1069.92,286.72 1071.03,286.21 1072.14,285.73 1073.25,285.29"/>
<path class="k" d="M957.25,378.71L958.36,378.27 959.47,377.79 960.58,377.28 961.69,376.72 962.80,376.12 963.91,375.48 965.02,374.80 966.13,374.08 967.24,373.33 968.34,372.53 969.45,371.70 970.56,370.84 971.67,369.94 972.78,369.00 973.89,368.04 975.00,367.04 976.11,366.00 977.22,364.94 978.33,363.85 979.44,362.73 980.55,361.58 981.66,360.40 982.77,359.20 983.88,357.98 984.99,356.73 986.10,355.45 987.21,354.16 988.32,352.85 989.42,351.52 990.53,350.17 991.64,348.80 992.75,347.42 993.86,346.03 994.97,344.62 996.08,343.20 997.19,341.77 998.30,340.33 999.41,338.89 1000.52,337.44 1001.63,335.98 1002.74,334.52 1003.85,333.06 1004.96,331.59 1006.07,330.13 1007.18,328.67 1008.29,327.21 1009.40,325.76 1010.50,324.31 1011.61,322.87 1012.72,321.44 1013.83,320.01 1014.94,318.60 1016.05,317.20 1017.16,315.81 1018.27,314.44 1019.38,313.08 1020.49,311.74 1021.60,310.42 1022.71,309.12 1023.82,307.84 1024.93,306.58 1026.04,305.34 1027.15,304.13 1028.26,302.94 1029.37,301.78 1030.48,300.65 1031.58,299.54 1032.69,298.47 1033.80,297.42 1034.91,296.41 1036.02,295.42 1037.13,294.47 1038.24,293.56 1039.35,292.68 1040.46,291.83 1041.57,291.02 1042.68,290.25 1043.79,289.52 1044.90,288.82 1046.01,288.16 1047.12,287.55 1048.23,286.97 1049.34,286.43 1050.45,285.94 1051.56,285.48 1052.66,285.07 1053.77,284.70 1054.88,284.37 1055.99,284.09 1057.10,283.85 1058.21,283.65 1059.32,283.50 1060.43,283.39 1061.54,283.32 1062.65,283.30"/>
<path class="k" d="M1008.84,326.49L1010.06,324.77 1011.28,322.83 1012.51,320.64 1013.73,318.23 1014.97,315.57 1016.20,312.68 1017.45,309.54 1018.69,306.16 1019.94,302.54 1021.20,298.67 1022.46,294.55 1023.73,290.18 1025.01,285.55"/>
<path class="k" d="M1025.01,285.55L1026.13,281.41 1027.25,277.32 1028.37,273.27 1029.49,269.28 1030.61,265.35 1031.73,261.48 1032.85,257.68 1033.97,253.94 1035.09,250.28 1036.21,246.69 1037.33,243.18 1038.45,239.75 1039.58,236.40 1040.70,233.15 1041.82,229.98 1042.94,226.91 1044.06,223.94 1045.18,221.06 1046.30,218.29 1047.42,215.62 1048.54,213.06 1049.66,210.61 1050.78,208.27 1051.90,206.05 1053.02,203.94 1054.14,201.94 1055.26,200.07 1056.38,198.32 1057.50,196.70 1058.62,195.19 1059.74,193.82 1060.87,192.57 1061.99,191.45 1063.11,190.45 1064.23,189.59 1065.35,188.86 1066.47,188.27 1067.59,187.80 1068.71,187.47 1069.83,187.27 1070.95,187.20"/>
<path class="k" d="M1070.95,187.20L1072.07,187.27 1073.18,187.46 1074.30,187.79 1075.41,188.26 1076.53,188.85 1077.64,189.57 1078.76,190.43 1079.87,191.41 1080.99,192.52 1082.10,193.76 1083.22,195.12 1084.33,196.61 1085.45,198.22 1086.57,199.96 1087.68,201.81 1088.80,203.79 1089.91,205.88 1091.03,208.08 1092.14,210.40 1093.26,212.83 1094.37,215.37 1095.49,218.02 1096.60,220.76 1097.72,223.62 1098.83,226.57 1099.95,229.61 1101.07,232.75 1102.18,235.98 1103.30,239.30 1104.41,242.70 1105.53,246.18 1106.64,249.74 1107.76,253.38 1108.87,257.09 1109.99,260.87 1111.10,264.71 1112.22,268.61 1113.33,272.57 1114.45,276.59 1115.57,280.65 1116.68,284.77 1117.80,288.92 1118.91,293.12 1120.03,297.35 1121.14,301.61 1122.26,305.90 1123.37,310.21 1124.49,314.55 1125.60,318.90 1126.72,323.26 1127.83,327.63 1128.95,332.00 1130.07,336.37 1131.18,340.74 1132.30,345.10 1133.41,349.45 1134.53,353.79 1135.64,358.10 1136.76,362.39 1137.87,366.65 1138.99,370.88 1140.10,375.08 1141.22,379.23 1142.33,383.35 1143.45,387.41 1144.57,391.43 1145.68,395.39 1146.80,399.29 1147.91,403.13 1149.03,406.91 1150.14,410.62 1151.26,414.26 1152.37,417.82 1153.49,421.30 1154.60,424.70 1155.72,428.02 1156.83,431.25 1157.95,434.39 1159.07,437.43 1160.18,440.38 1161.30,443.24 1162.41,445.98 1163.53,448.63 1164.64,451.17 1165.76,453.60 1166.87,455.92 1167.99,458.12 1169.10,460.21 1170.22,462.19 1171.33,464.04 1172.45,465.78 1173.57,467.39 1174.68,468.88 1175.80,470.24 1176.91,471.48 1178.03,472.59 1179.14,473.57 1180.26,474.43 1181.37,475.15 1182.49,475.74 1183.60,476.21 1184.72,476.54 1185.83,476.73 1186.95,476.80"/>
<path class="k" d="M1075.55,187.20L1076.67,187.27 1077.78,187.46 1078.90,187.79 1080.01,188.26 1081.13,188.85 1082.24,189.57 1083.36,190.43 1084.47,191.41 1085.59,192.52 1086.70,193.76 1087.82,195.12 1088.93,196.61 1090.05,198.22 1091.17,199.96 1092.28,201.81 1093.40,203.79 1094.51,205.88 1095.63,208.08 1096.74,210.40 1097.86,212.83 1098.97,215.37 1100.09,218.02 1101.20,220.76 1102.32,223.62 1103.43,226.57 1104.55,229.61 1105.67,232.75 1106.78,235.98 1107.90,239.30 1109.01,242.70 1110.13,246.18 1111.24,249.74 1112.36,253.38 1113.47,257.09 1114.59,260.87 1115.70,264.71 1116.82,268.61 1117.93,272.57 1119.05,276.59 1120.17,280.65 1121.28,284.77 1122.40,288.92 1123.51,293.12 1124.63,297.35 1125.74,301.61 1126.86,305.90 1127.97,310.21 1129.09,314.55 1130.20,318.90 1131.32,323.26 1132.43,327.63 1133.55,332.00 1134.67,336.37 1135.78,340.74 1136.90,345.10 1138.01,349.45 1139.13,353.79 1140.24,358.10 1141.36,362.39 1142.47,366.65 1143.59,370.88 1144.70,375.08 1145.82,379.23 1146.93,383.35 1148.05,387.41 1149.17,391.43 1150.28,395.39 1151.40,399.29 1152.51,403.13 1153.63,406.91 1154.74,410.62 1155.86,414.26 1156.97,417.82 1158.09,421.30 1159.20,424.70 1160.32,428.02 1161.43,431.25 1162.55,434.39 1163.67,437.43 1164.78,440.38 1165.90,443.24 1167.01,445.98 1168.13,448.63 1169.24,451.17 1170.36,453.60 1171.47,455.92 1172.59,458.12 1173.70,460.21 1174.82,462.19 1175.93,464.04 1177.05,465.78 1178.17,467.39 1179.28,468.88 1180.40,470.24 1181.51,471.48 1182.63,472.59 1183.74,473.57 1184.86,474.43 1185.97,475.15 1187.09,475.74 1188.20,476.21 1189.32,476.54 1190.43,476.73 1191.55,476.80"/>
<path class="k" d="M1062.65,283.30L1063.76,283.32 1064.87,283.39 1065.98,283.50 1067.09,283.65 1068.20,283.85 1069.31,284.09 1070.42,284.38 1071.53,284.70 1072.64,285.07 1073.76,285.49 1074.87,285.94 1075.98,286.44 1077.09,286.98 1078.20,287.55 1079.31,288.17 1080.42,288.83 1081.53,289.53 1082.64,290.26 1083.75,291.04 1084.86,291.85 1085.97,292.69 1087.08,293.58 1088.19,294.49 1089.30,295.45 1090.41,296.43 1091.52,297.45 1092.63,298.49 1093.74,299.57 1094.85,300.68 1095.97,301.81 1097.08,302.98 1098.19,304.17 1099.30,305.38 1100.41,306.62 1101.52,307.88 1102.63,309.16 1103.74,310.47 1104.85,311.79 1105.96,313.13 1107.07,314.49 1108.18,315.86 1109.29,317.25 1110.40,318.66 1111.51,320.07 1112.62,321.50 1113.73,322.93 1114.84,324.37 1115.95,325.82 1117.06,327.28 1118.18,328.74 1119.29,330.20 1120.40,331.67 1121.51,333.13 1122.62,334.59 1123.73,336.05 1124.84,337.51"/>
<path class="k" d="M1124.84,337.51L1126.06,339.23 1127.28,341.17 1128.51,343.36 1129.73,345.77 1130.97,348.43 1132.20,351.32 1133.45,354.46 1134.69,357.84 1135.94,361.46 1137.20,365.33 1138.46,369.45 1139.73,373.82 1141.01,378.45"/>
<path class="k" d="M1137.66,326.49L1136.44,324.77 1135.22,322.83 1133.99,320.64 1132.77,318.23 1131.53,315.57 1130.30,312.68 1129.05,309.54 1127.81,306.16 1126.56,302.54 1125.30,298.67 1124.04,294.55 1122.77,290.18 1121.49,285.55"/>
<path class="k" d="M1137.66,326.49L1138.77,327.95 1139.88,329.41 1140.99,330.87 1142.10,332.33 1143.21,333.80 1144.32,335.26 1145.44,336.72 1146.55,338.18 1147.66,339.63 1148.77,341.07 1149.88,342.50 1150.99,343.93 1152.10,345.34 1153.21,346.75 1154.32,348.14 1155.43,349.51 1156.54,350.87 1157.65,352.21 1158.76,353.53 1159.87,354.84 1160.98,356.12 1162.09,357.38 1163.20,358.62 1164.31,359.83 1165.42,361.02 1166.53,362.19 1167.65,363.32 1168.76,364.43 1169.87,365.51 1170.98,366.55 1172.09,367.57 1173.20,368.55 1174.31,369.51 1175.42,370.42 1176.53,371.31 1177.64,372.15 1178.75,372.96 1179.86,373.74 1180.97,374.47 1182.08,375.17 1183.19,375.83 1184.30,376.45 1185.41,377.02 1186.52,377.56 1187.63,378.06 1188.74,378.51 1189.86,378.93 1190.97,379.30 1192.08,379.62 1193.19,379.91 1194.30,380.15 1195.41,380.35 1196.52,380.50 1197.63,380.61 1198.74,380.68 1199.85,380.70"/>
<path class="k" d="M1191.55,476.80L1192.67,476.73 1193.79,476.53 1194.91,476.20 1196.03,475.73 1197.15,475.14 1198.27,474.41 1199.39,473.55 1200.51,472.55 1201.63,471.43 1202.76,470.18 1203.88,468.81 1205.00,467.30 1206.12,465.68 1207.24,463.93 1208.36,462.06 1209.48,460.06 1210.60,457.95 1211.72,455.73 1212.84,453.39 1213.96,450.94 1215.08,448.38 1216.20,445.71 1217.32,442.94 1218.44,440.06 1219.56,437.09 1220.68,434.02 1221.80,430.85 1222.92,427.60 1224.05,424.25 1225.17,420.82 1226.29,417.31 1227.41,413.72 1228.53,410.06 1229.65,406.32 1230.77,402.52 1231.89,398.65 1233.01,394.72 1234.13,390.73 1235.25,386.68 1236.37,382.59 1237.49,378.45"/>
<path class="k" d="M1253.66,337.51L1252.44,339.23 1251.22,341.17 1249.99,343.36 1248.77,345.77 1247.53,348.43 1246.30,351.32 1245.05,354.46 1243.81,357.84 1242.56,361.46 1241.30,365.33 1240.04,369.45 1238.77,373.82 1237.49,378.45"/>
<path class="k" d="M1199.85,380.70L1200.96,380.68 1202.07,380.61 1203.18,380.50 1204.29,380.35 1205.40,380.15 1206.51,379.91 1207.62,379.63 1208.73,379.30 1209.84,378.93 1210.94,378.52 1212.05,378.06 1213.16,377.57 1214.27,377.03 1215.38,376.45 1216.49,375.84 1217.60,375.18 1218.71,374.48 1219.82,373.75 1220.93,372.98 1222.04,372.17 1223.15,371.32 1224.26,370.44 1225.37,369.53 1226.48,368.58 1227.59,367.59 1228.70,366.58 1229.81,365.53 1230.92,364.46 1232.02,363.35 1233.13,362.22 1234.24,361.06 1235.35,359.87 1236.46,358.66 1237.57,357.42 1238.68,356.16 1239.79,354.88 1240.90,353.58 1242.01,352.26 1243.12,350.92 1244.23,349.56 1245.34,348.19 1246.45,346.80 1247.56,345.40 1248.67,343.99 1249.78,342.56 1250.89,341.13 1252.00,339.69 1253.10,338.24 1254.21,336.79 1255.32,335.33 1256.43,333.87 1257.54,332.41 1258.65,330.94 1259.76,329.48 1260.87,328.02 1261.98,326.56 1263.09,325.11 1264.20,323.67 1265.31,322.23 1266.42,320.80 1267.53,319.38 1268.64,317.97 1269.75,316.58 1270.86,315.20 1271.97,313.83 1273.08,312.48 1274.18,311.15 1275.29,309.84 1276.40,308.55 1277.51,307.27 1278.62,306.02 1279.73,304.80 1280.84,303.60 1281.95,302.42 1283.06,301.27 1284.17,300.15 1285.28,299.06 1286.39,298.00 1287.50,296.96 1288.61,295.96 1289.72,295.00 1290.83,294.06 1291.94,293.16 1293.05,292.30 1294.16,291.47 1295.26,290.67 1296.37,289.92 1297.48,289.20 1298.59,288.52 1299.70,287.88 1300.81,287.28 1301.92,286.72 1303.03,286.21 1304.14,285.73 1305.25,285.29"/>
<path class="k" d="M1189.25,378.71L1190.36,378.27 1191.47,377.79 1192.58,377.28 1193.69,376.72 1194.80,376.12 1195.91,375.48 1197.02,374.80 1198.13,374.08 1199.24,373.33 1200.34,372.53 1201.45,371.70 1202.56,370.84 1203.67,369.94 1204.78,369.00 1205.89,368.04 1207.00,367.04 1208.11,366.00 1209.22,364.94 1210.33,363.85 1211.44,362.73 1212.55,361.58 1213.66,360.40 1214.77,359.20 1215.88,357.98 1216.99,356.73 1218.10,355.45 1219.21,354.16 1220.32,352.85 1221.42,351.52 1222.53,350.17 1223.64,348.80 1224.75,347.42 1225.86,346.03 1226.97,344.62 1228.08,343.20 1229.19,341.77 1230.30,340.33 1231.41,338.89 1232.52,337.44 1233.63,335.98 1234.74,334.52 1235.85,333.06 1236.96,331.59 1238.07,330.13 1239.18,328.67 1240.29,327.21 1241.40,325.76 1242.50,324.31 1243.61,322.87 1244.72,321.44 1245.83,320.01 1246.94,318.60 1248.05,317.20 1249.16,315.81 1250.27,314.44 1251.38,313.08 1252.49,311.74 1253.60,310.42 1254.71,309.12 1255.82,307.84 1256.93,306.58 1258.04,305.34 1259.15,304.13 1260.26,302.94 1261.37,301.78 1262.48,300.65 1263.58,299.54 1264.69,298.47 1265.80,297.42 1266.91,296.41 1268.02,295.42 1269.13,294.47 1270.24,293.56 1271.35,292.68 1272.46,291.83 1273.57,291.02 1274.68,290.25 1275.79,289.52 1276.90,288.82 1278.01,288.16 1279.12,287.55 1280.23,286.97 1281.34,286.43 1282.45,285.94 1283.56,285.48 1284.66,285.07 1285.77,284.70 1286.88,284.37 1287.99,284.09 1289.10,283.85 1290.21,283.65 1291.32,283.50 1292.43,283.39 1293.54,283.32 1294.65,283.30"/>
<path class="k" d="M1240.84,326.49L1242.06,324.77 1243.28,322.83 1244.51,320.64 1245.73,318.23 1246.97,315.57 1248.20,312.68 1249.45,309.54 1250.69,306.16 1251.94,302.54 1253.20,298.67 1254.46,294.55 1255.73,290.18 1257.01,285.55"/>
<path class="k" d="M1257.01,285.55L1258.13,281.41 1259.25,277.32 1260.37,273.27 1261.49,269.28 1262.61,265.35 1263.73,261.48 1264.85,257.68 1265.97,253.94 1267.09,250.28 1268.21,246.69 1269.33,243.18 1270.45,239.75 1271.58,236.40 1272.70,233.15 1273.82,229.98 1274.94,226.91 1276.06,223.94 1277.18,221.06 1278.30,218.29 1279.42,215.62 1280.54,213.06 1281.66,210.61 1282.78,208.27 1283.90,206.05 1285.02,203.94 1286.14,201.94 1287.26,200.07 1288.38,198.32 1289.50,196.70 1290.62,195.19 1291.74,193.82 1292.87,192.57 1293.99,191.45 1295.11,190.45 1296.23,189.59 1297.35,188.86 1298.47,188.27 1299.59,187.80 1300.71,187.47 1301.83,187.27 1302.95,187.20"/>
<path class="k" d="M1302.95,187.20L1304.07,187.27 1305.18,187.46 1306.30,187.79 1307.41,188.26 1308.53,188.85 1309.64,189.57 1310.76,190.43 1311.87,191.41 1312.99,192.52 1314.10,193.76 1315.22,195.12 1316.33,196.61 1317.45,198.22 1318.57,199.96 1319.68,201.81 1320.80,203.79 1321.91,205.88 1323.03,208.08 1324.14,210.40 1325.26,212.83 1326.37,215.37 1327.49,218.02 1328.60,220.76 1329.72,223.62 1330.83,226.57 1331.95,229.61 1333.07,232.75 1334.18,235.98 1335.30,239.30 1336.41,242.70 1337.53,246.18 1338.64,249.74 1339.76,253.38 1340.87,257.09 1341.99,260.87 1343.10,264.71 1344.22,268.61 1345.33,272.57 1346.45,276.59 1347.57,280.65 1348.68,284.77 1349.80,288.92 1350.91,293.12 1352.03,297.35 1353.14,301.61 1354.26,305.90 1355.37,310.21 1356.49,314.55 1357.60,318.90 1358.72,323.26 1359.83,327.63 1360.95,332.00 1362.07,336.37 1363.18,340.74 1364.30,345.10 1365.41,349.45 1366.53,353.79 1367.64,358.10 1368.76,362.39 1369.87,366.65 1370.99,370.88 1372.10,375.08 1373.22,379.23 1374.33,383.35 1375.45,387.41 1376.57,391.43 1377.68,395.39 1378.80,399.29 1379.91,403.13 1381.03,406.91 1382.14,410.62 1383.26,414.26 1384.37,417.82 1385.49,421.30 1386.60,424.70 1387.72,428.02 1388.83,431.25 1389.95,434.39 1391.07,437.43 1392.18,440.38 1393.30,443.24 1394.41,445.98 1395.53,448.63 1396.64,451.17 1397.76,453.60 1398.87,455.92 1399.99,458.12 1401.10,460.21 1402.22,462.19 1403.33,464.04 1404.45,465.78 1405.57,467.39 1406.68,468.88 1407.80,470.24 1408.91,471.48 1410.03,472.59 1411.14,473.57 1412.26,474.43 1413.37,475.15 1414.49,475.74 1415.60,476.21 1416.72,476.54 1417.83,476.73 1418.95,476.80"/>
<path class="k" d="M1307.55,187.20L1308.67,187.27 1309.78,187.46 1310.90,187.79 1312.01,188.26 1313.13,188.85 1314.24,189.57 1315.36,190.43 1316.47,191.41 1317.59,192.52 1318.70,193.76 1319.82,195.12 1320.93,196.61 1322.05,198.22 1323.17,199.96 1324.28,201.81 1325.40,203.79 1326.51,205.88 1327.63,208.08 1328.74,210.40 1329.86,212.83 1330.97,215.37 1332.09,218.02 1333.20,220.76 1334.32,223.62 1335.43,226.57 1336.55,229.61 1337.67,232.75 1338.78,235.98 1339.90,239.30 1341.01,242.70 1342.13,246.18 1343.24,249.74 1344.36,253.38 1345.47,257.09 1346.59,260.87 1347.70,264.71 1348.82,268.61 1349.93,272.57 1351.05,276.59 1352.17,280.65 1353.28,284.77 1354.40,288.92 1355.51,293.12 1356.63,297.35 1357.74,301.61 1358.86,305.90 1359.97,310.21 1361.09,314.55 1362.20,318.90 1363.32,323.26 1364.43,327.63 1365.55,332.00 1366.67,336.37 1367.78,340.74 1368.90,345.10 1370.01,349.45 1371.13,353.79 1372.24,358.10 1373.36,362.39 1374.47,366.65 1375.59,370.88 1376.70,375.08 1377.82,379.23 1378.93,383.35 1380.05,387.41 1381.17,391.43 1382.28,395.39 1383.40,399.29 1384.51,403.13 1385.63,406.91 1386.74,410.62 1387.86,414.26 1388.97,417.82 1390.09,421.30 1391.20,424.70 1392.32,428.02 1393.43,431.25 1394.55,434.39 1395.67,437.43 1396.78,440.38 1397.90,443.24 1399.01,445.98 1400.13,448.63 1401.24,451.17 1402.36,453.60 1403.47,455.92 1404.59,458.12 1405.70,460.21 1406.82,462.19 1407.93,464.04 1409.05,465.78 1410.17,467.39 1411.28,468.88 1412.40,470.24 1413.51,471.48 1414.63,472.59 1415.74,473.57 1416.86,474.43 1417.97,475.15 1419.09,475.74 1420.20,476.21 1421.32,476.54 1422.43,476.73 1423.55,476.80"/>
<path class="k" d="M1294.65,283.30L1295.76,283.32 1296.87,283.39 1297.98,283.50 1299.09,283.65 1300.20,283.85 1301.31,284.09 1302.42,284.38 1303.53,284.70 1304.64,285.07 1305.76,285.49 1306.87,285.94 1307.98,286.44 1309.09,286.98 1310.20,287.55 1311.31,288.17 1312.42,288.83 1313.53,289.53 1314.64,290.26 1315.75,291.04 1316.86,291.85 1317.97,292.69 1319.08,293.58 1320.19,294.49 1321.30,295.45 1322.41,296.43 1323.52,297.45 1324.63,298.49 1325.74,299.57 1326.85,300.68 1327.97,301.81 1329.08,302.98 1330.19,304.17 1331.30,305.38 1332.41,306.62 1333.52,307.88 1334.63,309.16 1335.74,310.47 1336.85,311.79 1337.96,313.13 1339.07,314.49 1340.18,315.86 1341.29,317.25 1342.40,318.66 1343.51,320.07 1344.62,321.50 1345.73,322.93 1346.84,324.37 1347.95,325.82 1349.06,327.28 1350.18,328.74 1351.29,330.20 1352.40,331.67 1353.51,333.13 1354.62,334.59 1355.73,336.05 1356.84,337.51"/>
<path class="k" d="M1356.84,337.51L1358.06,339.23 1359.28,341.17 1360.51,343.36 1361.73,345.77 1362.97,348.43 1364.20,351.32 1365.45,354.46 1366.69,357.84 1367.94,361.46 1369.20,365.33 1370.46,369.45 1371.73,373.82 1373.01,378.45"/>
<path class="k" d="M1369.66,326.49L1368.44,324.77 1367.22,322.83 1365.99,320.64 1364.77,318.23 1363.53,315.57 1362.30,312.68 1361.05,309.54 1359.81,306.16 1358.56,302.54 1357.30,298.67 1356.04,294.55 1354.77,290.18 1353.49,285.55"/>
<path class="k" d="M1369.66,326.49L1370.77,327.95 1371.88,329.41 1372.99,330.87 1374.10,332.33 1375.21,333.80 1376.32,335.26 1377.44,336.72 1378.55,338.18 1379.66,339.63 1380.77,341.07 1381.88,342.50 1382.99,343.93 1384.10,345.34 1385.21,346.75 1386.32,348.14 1387.43,349.51 1388.54,350.87 1389.65,352.21 1390.76,353.53 1391.87,354.84 1392.98,356.12 1394.09,357.38 1395.20,358.62 1396.31,359.83 1397.42,361.02 1398.53,362.19 1399.65,363.32 1400.76,364.43 1401.87,365.51 1402.98,366.55 1404.09,367.57 1405.20,368.55 1406.31,369.51 1407.42,370.42 1408.53,371.31 1409.64,372.15 1410.75,372.96 1411.86,373.74 1412.97,374.47 1414.08,375.17 1415.19,375.83 1416.30,376.45 1417.41,377.02 1418.52,377.56 1419.63,378.06 1420.74,378.51 1421.86,378.93 1422.97,379.30 1424.08,379.62 1425.19,379.91 1426.30,380.15 1427.41,380.35 1428.52,380.50 1429.63,380.61 1430.74,380.68 1431.85,380.70"/>
<path class="k" d="M1423.55,476.80L1424.67,476.73 1425.79,476.53 1426.91,476.20 1428.03,475.73 1429.15,475.14 1430.27,474.41 1431.39,473.55 1432.51,472.55 1433.63,471.43 1434.76,470.18 1435.88,468.81 1437.00,467.30 1438.12,465.68 1439.24,463.93 1440.36,462.06 1441.48,460.06 1442.60,457.95 1443.72,455.73 1444.84,453.39 1445.96,450.94 1447.08,448.38 1448.20,445.71 1449.32,442.94 1450.44,440.06 1451.56,437.09 1452.68,434.02 1453.80,430.85 1454.92,427.60 1456.05,424.25 1457.17,420.82 1458.29,417.31 1459.41,413.72 1460.53,410.06 1461.65,406.32 1462.77,402.52 1463.89,398.65 1465.01,394.72 1466.13,390.73 1467.25,386.68 1468.37,382.59 1469.49,378.45"/>
<path class="k" d="M1485.66,337.51L1484.44,339.23 1483.22,341.17 1481.99,343.36 1480.77,345.77 1479.53,348.43 1478.30,351.32 1477.05,354.46 1475.81,357.84 1474.56,361.46 1473.30,365.33 1472.04,369.45 1470.77,373.82 1469.49,378.45"/>
<path class="k" d="M1431.85,380.70L1432.97,380.68 1434.08,380.61 1435.20,380.50 1436.31,380.34 1437.43,380.15 1438.54,379.90 1439.66,379.62 1440.77,379.28 1441.89,378.91 1443.00,378.49 1444.12,378.04 1445.23,377.54 1446.35,376.99 1447.47,376.41 1448.58,375.79 1449.70,375.12 1450.81,374.42 1451.93,373.68 1453.04,372.90 1454.16,372.08 1455.27,371.23 1456.39,370.34 1457.50,369.41 1458.62,368.45 1459.73,367.46 1460.85,366.44 1461.97,365.38 1463.08,364.29 1464.20,363.18 1465.31,362.03 1466.43,360.86 1467.54,359.66 1468.66,358.44 1469.77,357.19 1470.89,355.92 1472.00,354.63 1473.12,353.32 1474.23,351.99 1475.35,350.64 1476.47,349.27 1477.58,347.89 1478.70,346.49 1479.81,345.08 1480.93,343.65 1482.04,342.22 1483.16,340.78 1484.27,339.33 1485.39,337.87 1486.50,336.41 1487.62,334.94 1488.73,333.47 1489.85,332.00 1490.97,330.53 1492.08,329.06 1493.20,327.59 1494.31,326.13 1495.43,324.67 1496.54,323.22 1497.66,321.78 1498.77,320.35 1499.89,318.92 1501.00,317.51 1502.12,316.11 1503.23,314.73 1504.35,313.36 1505.47,312.01 1506.58,310.68 1507.70,309.37 1508.81,308.08 1509.93,306.81 1511.04,305.56 1512.16,304.34 1513.27,303.14 1514.39,301.97 1515.50,300.82 1516.62,299.71 1517.73,298.62 1518.85,297.56 1519.97,296.54 1521.08,295.55 1522.20,294.59 1523.31,293.66 1524.43,292.77 1525.54,291.92 1526.66,291.10 1527.77,290.32 1528.89,289.58 1530.00,288.88 1531.12,288.21 1532.23,287.59 1533.35,287.01 1534.47,286.46 1535.58,285.96 1536.70,285.51 1537.81,285.09 1538.93,284.72 1540.04,284.38 1541.16,284.10 1542.27,283.85 1543.39,283.66 1544.50,283.50 1545.62,283.39 1546.73,283.32 1547.85,283.30"/>
<path class="k" d="M1421.25,378.71L1422.36,378.27 1423.47,377.79 1424.58,377.28 1425.69,376.72 1426.80,376.12 1427.91,375.48 1429.02,374.80 1430.13,374.08 1431.24,373.33 1432.34,372.53 1433.45,371.70 1434.56,370.84 1435.67,369.94 1436.78,369.00 1437.89,368.04 1439.00,367.04 1440.11,366.00 1441.22,364.94 1442.33,363.85 1443.44,362.73 1444.55,361.58 1445.66,360.40 1446.77,359.20 1447.88,357.98 1448.99,356.73 1450.10,355.45 1451.21,354.16 1452.32,352.85 1453.42,351.52 1454.53,350.17 1455.64,348.80 1456.75,347.42 1457.86,346.03 1458.97,344.62 1460.08,343.20 1461.19,341.77 1462.30,340.33 1463.41,338.89 1464.52,337.44 1465.63,335.98 1466.74,334.52 1467.85,333.06 1468.96,331.59 1470.07,330.13 1471.18,328.67 1472.29,327.21 1473.40,325.76 1474.50,324.31 1475.61,322.87 1476.72,321.44 1477.83,320.01 1478.94,318.60 1480.05,317.20 1481.16,315.81 1482.27,314.44 1483.38,313.08 1484.49,311.74 1485.60,310.42 1486.71,309.12 1487.82,307.84 1488.93,306.58 1490.04,305.34 1491.15,304.13 1492.26,302.94 1493.37,301.78 1494.48,300.65 1495.58,299.54 1496.69,298.47 1497.80,297.42 1498.91,296.41 1500.02,295.42 1501.13,294.47 1502.24,293.56 1503.35,292.68 1504.46,291.83 1505.57,291.02 1506.68,290.25 1507.79,289.52 1508.90,288.82 1510.01,288.16 1511.12,287.55 1512.23,286.97 1513.34,286.43 1514.45,285.94 1515.56,285.48 1516.66,285.07 1517.77,284.70 1518.88,284.37 1519.99,284.09 1521.10,283.85 1522.21,283.65 1523.32,283.50 1524.43,283.39 1525.54,283.32 1526.65,283.30"/>
<path class="k" d="M1472.84,326.49L1474.06,324.77 1475.28,322.83 1476.51,320.64 1477.73,318.23 1478.97,315.57 1480.20,312.68 1481.45,309.54 1482.69,306.16 1483.94,302.54 1485.20,298.67 1486.46,294.55 1487.73,290.18 1489.01,285.55"/>
<path class="k" d="M1489.01,285.55L1490.13,281.41 1491.25,277.32 1492.37,273.27 1493.49,269.28 1494.61,265.35 1495.73,261.48 1496.85,257.68 1497.97,253.94 1499.09,250.28 1500.21,246.69 1501.33,243.18 1502.45,239.75 1503.58,236.40 1504.70,233.15 1505.82,229.98 1506.94,226.91 1508.06,223.94 1509.18,221.06 1510.30,218.29 1511.42,215.62 1512.54,213.06 1513.66,210.61 1514.78,208.27 1515.90,206.05 1517.02,203.94 1518.14,201.94 1519.26,200.07 1520.38,198.32 1521.50,196.70 1522.62,195.19 1523.74,193.82 1524.87,192.57 1525.99,191.45 1527.11,190.45 1528.23,189.59 1529.35,188.86 1530.47,188.27 1531.59,187.80 1532.71,187.47 1533.83,187.27 1534.95,187.20"/>
<path class="k" style="stroke-width:3.4;stroke-linecap:butt" d="M143.0,186.0L143.0,284.8"/>
<path class="k" d="M1535.0,187.2L1526.7,283.3L1547.8,283.3L1539.5,187.2Z"/>
</g>

<g>
<text x="148.2" y="658.5">Направление навивки:</text>
<text x="473.8" y="660.5">Правое</text>
<text x="813.3" y="658.5" letter-spacing=".15">Материал:</text>
<text x="979.3" y="660.5" letter-spacing=".27">Углеродистая сталь</text>
<text transform="translate(821.5 581) scale(1 1.035)" text-anchor="middle">2500</text>
<text transform="translate(1191.3 121.4) scale(1 1.035)" text-anchor="middle">90</text>
<text transform="translate(1600.5 123.3) scale(1 1.035)" text-anchor="middle">7</text>
<text transform="translate(1606.5 323.4) scale(1 1.035)" text-anchor="middle">9</text>
<g transform="translate(291.3 128.2) rotate(-90) scale(1 1.035)"><text x="0" y="0">90</text></g>
<g transform="translate(61.3 234.5) rotate(-90) scale(1 1.035)"><text x="0" y="0">30</text></g>
<g transform="translate(284.5 140.3) rotate(-90)"><text class="dia" transform="scale(1.183 1.627) translate(-6.02 4.97)">⌀</text><path class="s" d="M-7.2,11.35L7.2,-11.35"/></g>
<g transform="translate(51.5 245.4) rotate(-90)"><text class="dia" transform="scale(1.183 1.627) translate(-6.02 4.97)">⌀</text><path class="s" d="M-7.2,11.35L7.2,-11.35"/></g>
</g>
</svg>
</body></html>
